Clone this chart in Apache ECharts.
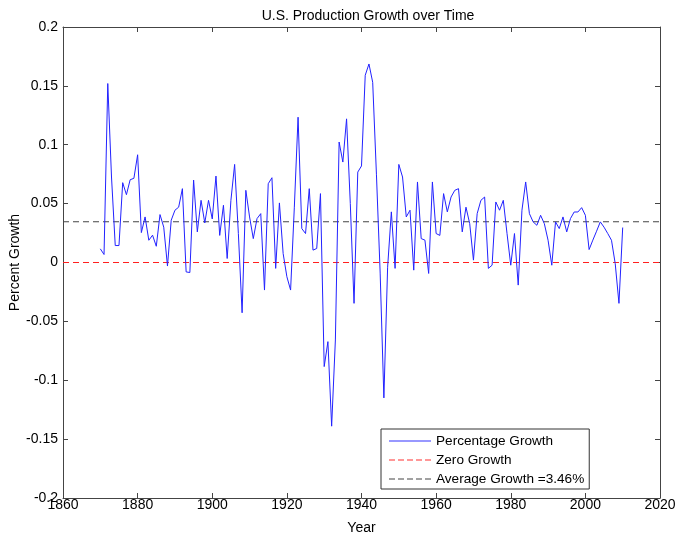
<!DOCTYPE html>
<html><head><meta charset="utf-8">
<script src="https://cdn.jsdelivr.net/npm/echarts@6/dist/echarts.min.js"></script>
<style>html,body{margin:0;padding:0;background:#fff}#c{width:677px;height:536px}</style>
</head><body><div id="c"></div>
<script>
const startYear = 1870;
const growth = [
0.0116,0.0068,0.152,0.0726,0.0144,0.0144,0.0678,0.0576,0.0703,0.0715,
0.0915,0.0254,0.0387,0.0189,0.0232,0.0138,0.0407,0.030,-0.003,0.0359,
0.0444,0.047,0.0627,-0.008,-0.0085,0.070,0.026,0.0528,0.0336,0.0528,
0.037,0.0734,0.023,0.0486,0.0034,0.0528,0.0833,0.0246,-0.0427,0.0613,
0.0387,0.0203,0.0373,0.0415,-0.0234,0.0669,0.072,-0.005,0.0506,0.0076,
-0.0121,-0.0234,0.047,0.1234,0.0288,0.0246,0.0627,0.0105,0.0119,0.0585,
-0.0884,-0.0672,-0.139,-0.0658,0.1023,0.0853,0.122,0.05,-0.0347,0.0768,
0.082,0.159,0.1686,0.153,0.075,-0.009,-0.115,-0.004,0.043,-0.005,
0.0833,0.0726,0.0387,0.0444,-0.0065,0.0684,0.0203,0.019,-0.0093,0.0684,
0.0246,0.023,0.0585,0.043,0.0556,0.0613,0.0627,0.026,0.047,0.033,
0.002,0.0415,0.0528,0.0556,-0.005,-0.0023,0.0514,0.0444,0.0528,0.0246,
-0.0023,0.0246,-0.0192,0.0444,0.0684,0.0415,0.0345,0.0316,0.0401,0.033,
0.0189,-0.0023,0.0345,0.0288,0.0387,0.026,0.0373,0.0429,0.0429,0.0466,
0.0401,0.011,0.019,0.0266,0.0345,0.030,0.0246,0.0189,-0.001,-0.0347,
0.0297
];
const years = growth.map((_, i) => startYear + i);
const refYears = [1860, 2020];
const zeroLevel = [0, 0];
const avgLevel = [0.0346, 0.0346];
const xTicks = [1860,1880,1900,1920,1940,1960,1980,2000,2020];
const yTicks = [-0.2,-0.15,-0.1,-0.05,0,0.05,0.1,0.15,0.2];

const font = 'Liberation Sans, Arial, sans-serif';
const axCommon = {
  axisLine:{show:true,onZero:false,lineStyle:{color:'#444',width:1}},
  axisTick:{show:true,inside:true,length:5,lineStyle:{color:'#444'}},
  splitLine:{show:false}
};
const solidIcon = 'path://M0,5L42,5L42,6L0,6Z';
const dashIcon = 'path://M0,5h6v1h-6zM9,5h6v1h-6zM18,5h6v1h-6zM27,5h6v1h-6zM36,5h6v1h-6z';
const chart = echarts.init(document.getElementById('c'));
chart.setOption({
  animation:false,
  backgroundColor:'#fff',
  textStyle:{fontFamily:font},
  title:{text:'U.S. Production Growth over Time',left:363,textAlign:'center',top:4,
    textStyle:{fontSize:14,fontWeight:'normal',color:'#000',fontFamily:font}},
  grid:{left:63,right:17,top:27,bottom:38,containLabel:false,outerBoundsMode:'none'},
  xAxis:[
    Object.assign({type:'value',min:xTicks[0],max:xTicks[xTicks.length-1],interval:20,
      name:'Year',nameLocation:'middle',nameGap:23,nameMoveOverlap:false,
      nameTextStyle:{fontSize:14,color:'#000',fontFamily:font},
      axisLabel:{color:'#000',fontSize:14,margin:0,fontFamily:font,formatter:v=>String(v)}},axCommon),
    Object.assign({type:'value',position:'top',min:xTicks[0],max:xTicks[xTicks.length-1],interval:20,
      axisLabel:{show:false}},axCommon)
  ],
  yAxis:[
    Object.assign({type:'value',min:yTicks[0],max:yTicks[yTicks.length-1],interval:0.05,
      name:'Percent Growth',nameLocation:'middle',nameGap:41,nameMoveOverlap:false,
      nameTextStyle:{fontSize:14,color:'#000',fontFamily:font},
      axisLabel:{color:'#000',fontSize:14,margin:5,fontFamily:font,formatter:v=>String(+v.toFixed(2))}},axCommon),
    Object.assign({type:'value',position:'right',min:yTicks[0],max:yTicks[yTicks.length-1],interval:0.05,
      axisLabel:{show:false}},axCommon)
  ],
  legend:{orient:'vertical',left:381,top:429,
    backgroundColor:'#fff',borderColor:'#333',borderWidth:1,borderRadius:0,
    padding:[4,5,2,8],itemGap:3,itemWidth:42,itemHeight:12,
    textStyle:{fontSize:13.6,lineHeight:16,color:'#000',fontFamily:font},
    data:[
      {name:'Percentage Growth',icon:solidIcon,itemStyle:{color:'#3333ff'}},
      {name:'Zero Growth',icon:dashIcon,itemStyle:{color:'#ff3030'}},
      {name:'Average Growth =3.46%',icon:dashIcon,itemStyle:{color:'#444'}}
    ]},
  series:[
    {name:'Percentage Growth',type:'line',symbol:'none',
      data:years.map((y,i)=>[y,growth[i]]),
      lineStyle:{color:'#2222ff',width:1},itemStyle:{color:'#3333ff'},z:3},
    {name:'Zero Growth',type:'line',symbol:'none',
      data:refYears.map((y,i)=>[y,zeroLevel[i]]),
      lineStyle:{color:'#ff2020',width:1,type:[6,4]},itemStyle:{color:'#ff3030'},z:2},
    {name:'Average Growth =3.46%',type:'line',symbol:'none',
      data:refYears.map((y,i)=>[y,avgLevel[i]]),
      lineStyle:{color:'#444',width:1,type:[6,4]},itemStyle:{color:'#444'},z:2}
  ]
});
</script></body></html>
